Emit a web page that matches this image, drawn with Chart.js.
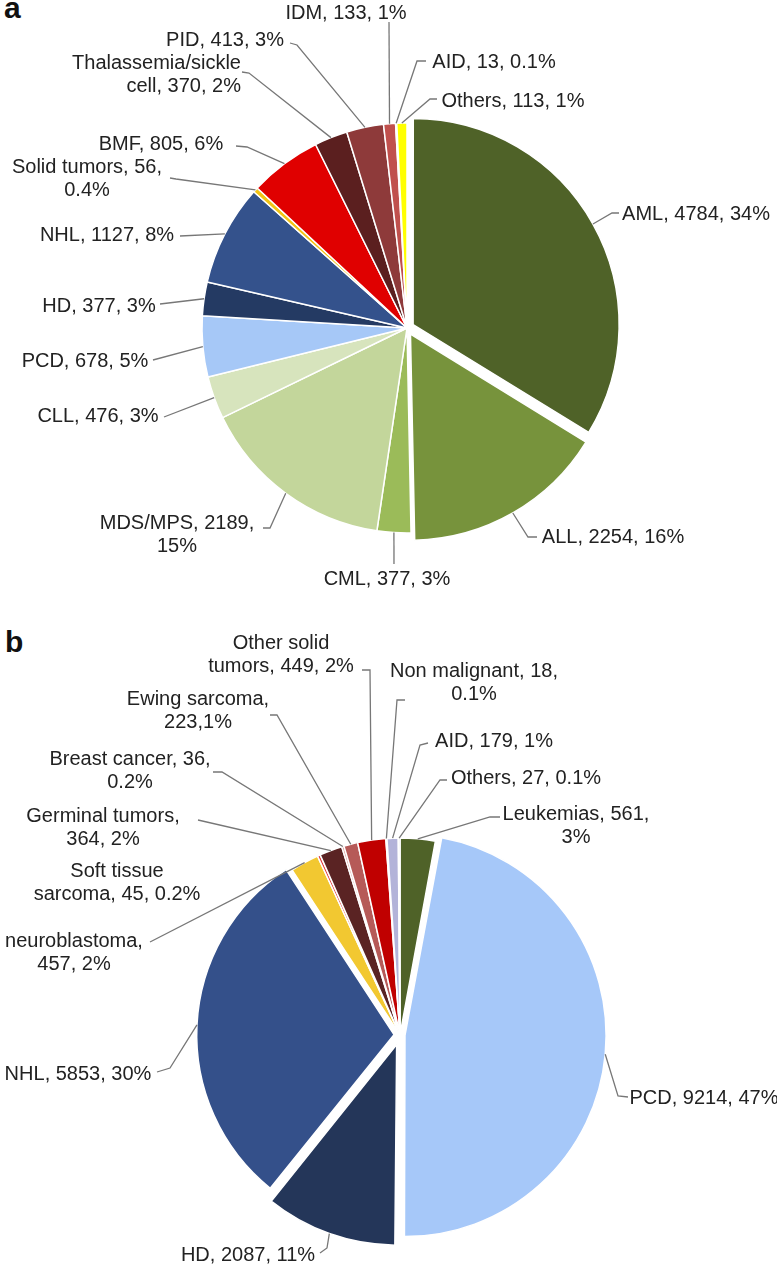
<!DOCTYPE html>
<html>
<head>
<meta charset="utf-8">
<script src="https://cdn.jsdelivr.net/npm/chart.js@4.4.1/dist/chart.umd.min.js"></script>
<style>
  html, body { margin: 0; padding: 0; background: #fff; }
  body { position: relative; width: 777px; height: 1266px; overflow: hidden; font-family: "Liberation Sans", Arial, sans-serif; }
  canvas { position: absolute; left: 0; }
  .tag { position: absolute; font-weight: bold; font-size: 30px; line-height: 30px; color: #111; }
  .lbl { position: absolute; white-space: nowrap; font-size: 20px; line-height: 23px; color: #222; }
</style>
</head>
<body>
<div class="tag" style="left:4px;top:-7px">a</div>
<div class="tag" style="left:5px;top:627px">b</div>
<canvas id="pieA" width="777" height="620" style="top:0"></canvas>
<canvas id="pieB" width="777" height="646" style="top:620px"></canvas>
<script>
// ---- data: panel a (allogeneic) ----
var categoriesA = ['AML', 'ALL', 'CML', 'MDS/MPS', 'CLL', 'PCD', 'HD', 'NHL', 'Solid tumors', 'BMF',
    'Thalassemia/sickle cell', 'PID', 'IDM', 'AID', 'Others'];
var countsA = [4784, 2254, 377, 2189, 476, 678, 377, 1127, 56, 805, 370, 413, 133, 13, 113];
var percentA = ['34%', '16%', '3%', '15%', '3%', '5%', '3%', '8%', '0.4%', '6%', '2%', '3%', '1%', '0.1%', '1%'];

// ---- data: panel b (autologous) ----
var categoriesB = ['Leukemias', 'PCD', 'HD', 'NHL', 'neuroblastoma', 'Soft tissue sarcoma', 'Germinal tumors',
    'Breast cancer', 'Ewing sarcoma', 'Other solid tumors', 'Non malignant', 'AID', 'Others'];
var countsB = [561, 9214, 2087, 5853, 457, 45, 364, 36, 223, 449, 18, 179, 27];
var percentB = ['3%', '47%', '11%', '30%', '2%', '0.2%', '2%', '0.2%', '1%', '2%', '0.1%', '1%', '0.1%'];

// colours / explode
var colorsA = ['#4f6228', '#77933c', '#9bbb59', '#c3d69b', '#d7e4bd', '#a6c8f7', '#243a63', '#34528c',
    '#f2c314', '#e00000', '#5b1f1f', '#8e3a3a', '#c0504d', '#e6b9b8', '#ffff00'];
var explodeA = [28, 28, 0, 0, 0, 0, 0, 0, 0, 0, 0, 0, 0, 0, 0];
var colorsB = ['#4f6228', '#a6c8f9', '#243659', '#34508a', '#f2c831', '#e03a3a', '#5a2323',
    '#d99694', '#b65a58', '#c00000', '#f5c518', '#b3b3d9', '#d9d9d9'];
var explodeB = [0, 20, 40, 24, 0, 0, 0, 0, 0, 0, 0, 0, 0];

// callout text + leader start points (canvas pixels), one per slice
var calloutsA = [
    { lines: ['AML, 4784, 34%'], x: 696, y: 213, leader: [[619, 213], [612, 213]] },
    { lines: ['ALL, 2254, 16%'], x: 613, y: 536, leader: [[537, 537], [528, 537]] },
    { lines: ['CML, 377, 3%'], x: 387, y: 578, leader: [[394, 564]] },
    { lines: ['MDS/MPS, 2189,', '15%'], x: 177, y: 522, leader: [[263, 528], [270, 528]] },
    { lines: ['CLL, 476, 3%'], x: 98, y: 415, leader: [[164, 417]] },
    { lines: ['PCD, 678, 5%'], x: 85, y: 360, leader: [[153, 360]] },
    { lines: ['HD, 377, 3%'], x: 99, y: 305, leader: [[160, 304]] },
    { lines: ['NHL, 1127, 8%'], x: 107, y: 234, leader: [[180, 236]] },
    { lines: ['Solid tumors, 56,', '0.4%'], x: 87, y: 166, leader: [[170, 178], [176, 179]] },
    { lines: ['BMF, 805, 6%'], x: 161, y: 143, leader: [[236, 146], [247, 147]] },
    { lines: ['Thalassemia/sickle', 'cell, 370, 2%'], x: 241, y: 62, align: 'right', leader: [[242, 72], [249, 73]] },
    { lines: ['PID, 413, 3%'], x: 225, y: 39, leader: [[290, 43], [297, 45]] },
    { lines: ['IDM, 133, 1%'], x: 346, y: 12, leader: [[389, 22]] },
    { lines: ['AID, 13, 0.1%'], x: 494, y: 61, leader: [[426, 61], [417, 61]] },
    { lines: ['Others, 113, 1%'], x: 513, y: 100, leader: [[437, 99], [430, 99]] }
];
var calloutsB = [
    { lines: ['Leukemias, 561,', '3%'], x: 576, y: 193, leader: [[500, 197], [490, 197]] },
    { lines: ['PCD, 9214, 47%'], x: 704, y: 477, leader: [[628, 477], [618, 476]] },
    { lines: ['HD, 2087, 11%'], x: 248, y: 634, leader: [[320, 633], [327, 628]] },
    { lines: ['NHL, 5853, 30%'], x: 78, y: 453, leader: [[157, 452], [170, 448]] },
    { lines: ['neuroblastoma,', '457, 2%'], x: 74, y: 320, leader: [[150, 322]] },
    { lines: ['Soft tissue', 'sarcoma, 45, 0.2%'], x: 117, y: 250 },
    { lines: ['Germinal tumors,', '364, 2%'], x: 103, y: 195, leader: [[198, 200]] },
    { lines: ['Breast cancer, 36,', '0.2%'], x: 130, y: 138, leader: [[213, 152], [222, 152]] },
    { lines: ['Ewing sarcoma,', '223,1%'], x: 198, y: 78, leader: [[270, 95], [277, 95]] },
    { lines: ['Other solid', 'tumors, 449, 2%'], x: 281, y: 22, leader: [[362, 50], [370, 50]] },
    { lines: ['Non malignant, 18,', '0.1%'], x: 474, y: 50, leader: [[405, 80], [397, 80]] },
    { lines: ['AID, 179, 1%'], x: 494, y: 120, leader: [[428, 123], [420, 125]] },
    { lines: ['Others, 27, 0.1%'], x: 526, y: 157, leader: [[447, 160], [440, 160]] }
];

// plugin: leader lines from callout to outer edge of each slice
function leaderPlugin(callouts) {
    return {
        id: 'leaders',
        afterDatasetsDraw: function (chart) {
            var ctx = chart.ctx;
            var meta = chart.getDatasetMeta(0);
            ctx.save();
            ctx.strokeStyle = '#777777';
            ctx.lineWidth = 1.3;
            meta.data.forEach(function (arc, i) {
                var c = callouts[i];
                if (!c || !c.leader) return;
                var p = arc.getProps(['x', 'y', 'startAngle', 'endAngle', 'outerRadius', 'circumference'], true);
                var mid = (p.startAngle + p.endAngle) / 2;
                // same explode maths as ArcElement.draw
                var off = (arc.options.offset || 0) / 4;
                var fix = 1 - Math.sin(Math.min(Math.PI, p.circumference));
                var r = p.outerRadius + off + off * fix;
                var ax = p.x + Math.cos(mid) * r;
                var ay = p.y + Math.sin(mid) * r;
                ctx.beginPath();
                ctx.moveTo(c.leader[0][0], c.leader[0][1]);
                for (var k = 1; k < c.leader.length; k++) ctx.lineTo(c.leader[k][0], c.leader[k][1]);
                ctx.lineTo(ax, ay);
                ctx.stroke();
            });
            ctx.restore();
        }
    };
}

// callout text as html on top of the canvas
function placeLabels(callouts, top) {
    callouts.forEach(function (c) {
        var d = document.createElement('div');
        d.className = 'lbl';
        d.innerHTML = c.lines.join('<br>');
        d.style.left = c.x + 'px';
        d.style.top = (top + c.y - 11.5) + 'px';
        if (c.align === 'right') {
            d.style.textAlign = 'right';
            d.style.transform = 'translateX(-100%)';
        } else {
            d.style.textAlign = 'center';
            d.style.transform = 'translateX(-50%)';
        }
        document.body.appendChild(d);
    });
}

function makePie(canvasId, categories, counts, colors, explode, radius, padding, callouts) {
    return new Chart(document.getElementById(canvasId), {
        type: 'pie',
        data: {
            labels: categories,
            datasets: [{
                data: counts,
                backgroundColor: colors,
                borderColor: '#ffffff',
                borderWidth: 1.5,
                offset: explode
            }]
        },
        options: {
            responsive: false,
            animation: false,
            devicePixelRatio: 1,
            radius: radius,
            layout: { padding: padding },
            plugins: {
                legend: { display: false },
                tooltip: { enabled: false }
            }
        },
        plugins: [leaderPlugin(callouts)]
    });
}

makePie('pieA', categoriesA, countsA, colorsA, explodeA, 205, { left: 37, right: 0, top: 36, bottom: 0 }, calloutsA);
makePie('pieB', categoriesB, countsB, colorsB, explodeB, 197, { left: 23, right: 0, top: 184, bottom: 0 }, calloutsB);
placeLabels(calloutsA, 0);
placeLabels(calloutsB, 620);
</script>
</body>
</html>
